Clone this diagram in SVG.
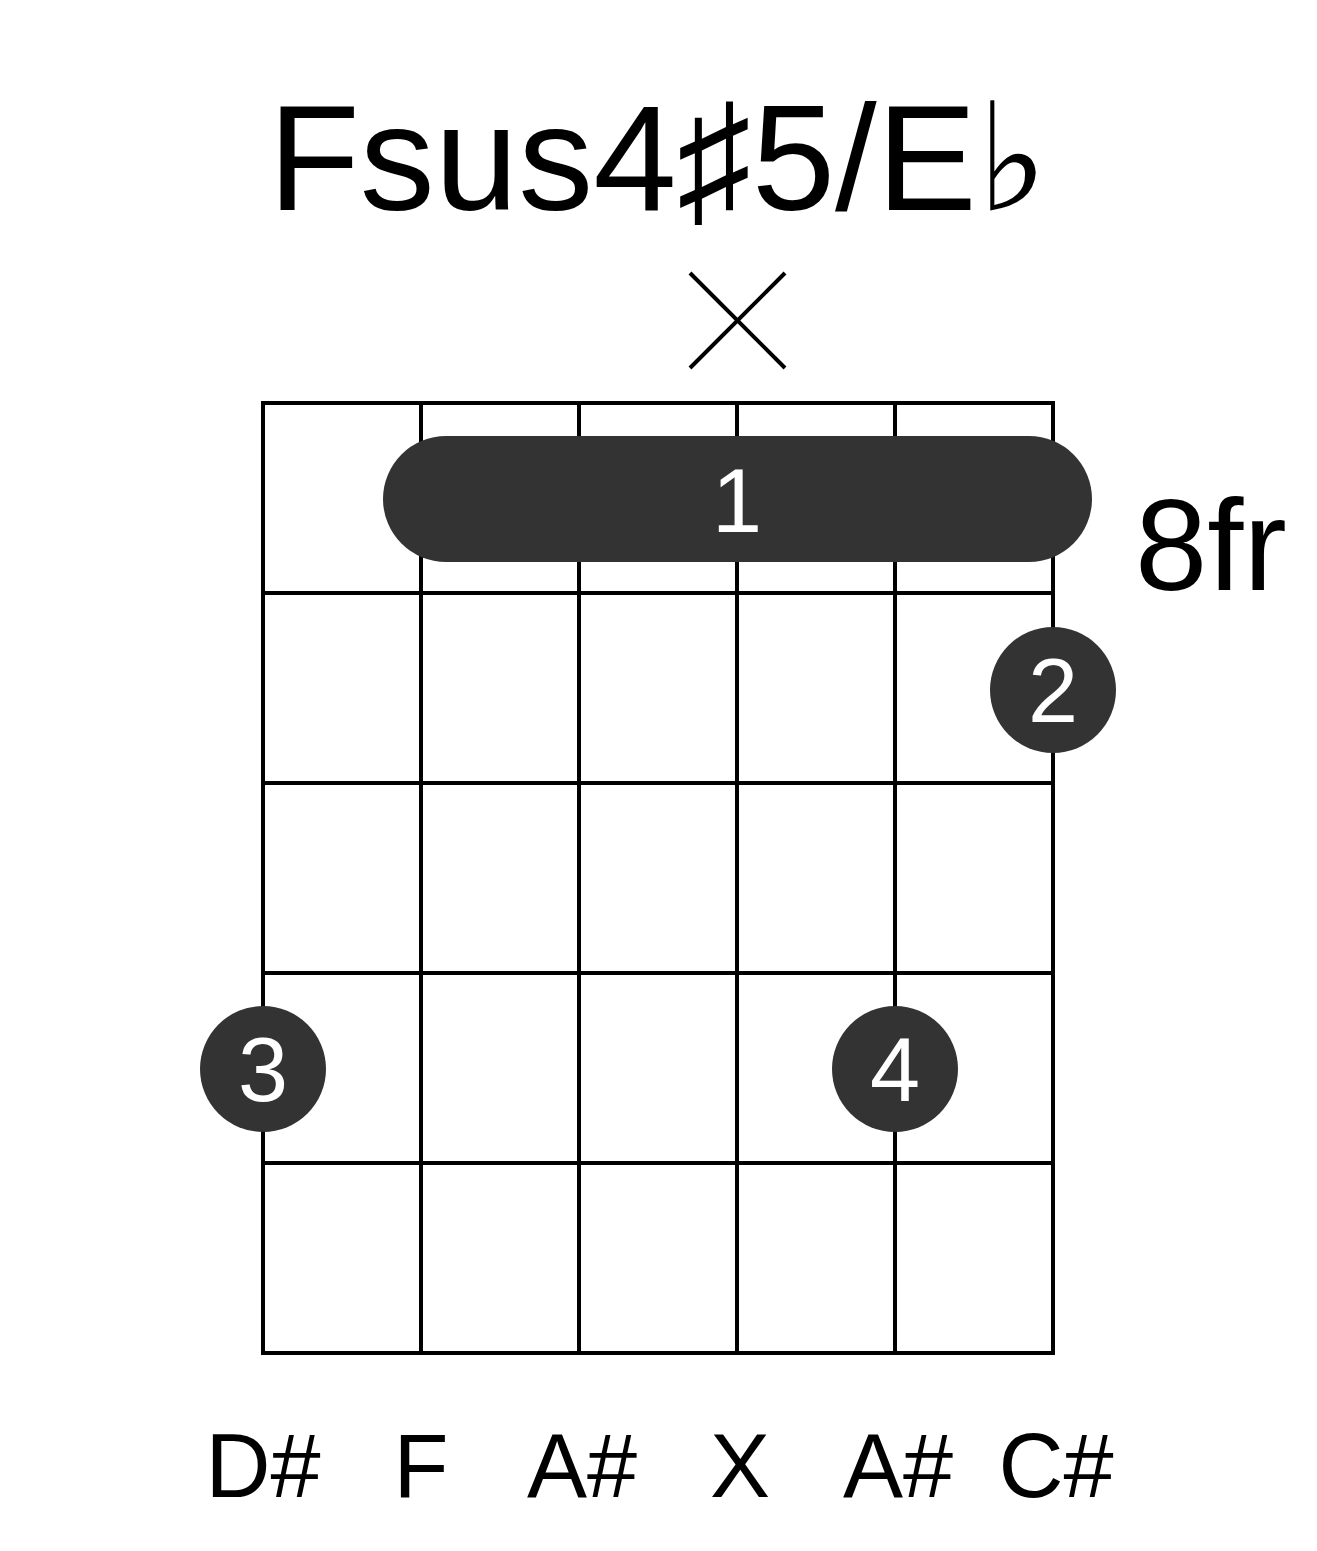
<svg xmlns="http://www.w3.org/2000/svg" width="1317" height="1551" viewBox="0 0 1317 1551">
<style>
.t{font-family:"Liberation Sans",Arial,sans-serif;fill:#000}
.g line{stroke:#000;stroke-width:4}
.d{fill:#333}
.w{font-family:"Liberation Sans",Arial,sans-serif;fill:#fff;font-size:90px;text-anchor:middle}
.n{font-size:90px;text-anchor:middle}
</style>
<rect width="1317" height="1551" fill="#fff"/>
<text class="t" x="658" y="210" font-size="150" text-anchor="middle">Fsus4♯5/E♭</text>
<g id="mute"><line x1="690" y1="273" x2="785" y2="368" stroke="#000" stroke-width="4"/><line x1="785" y1="273" x2="690" y2="368" stroke="#000" stroke-width="4"/></g>
<g id="grid" class="g">
<line x1="263" y1="401" x2="263" y2="1355"/><line x1="421" y1="403" x2="421" y2="1353"/><line x1="579" y1="403" x2="579" y2="1353"/><line x1="737" y1="403" x2="737" y2="1353"/><line x1="895" y1="403" x2="895" y2="1353"/><line x1="1053" y1="401" x2="1053" y2="1355"/>
<line x1="261" y1="403" x2="1055" y2="403"/><line x1="263" y1="593" x2="1053" y2="593"/><line x1="263" y1="783" x2="1053" y2="783"/><line x1="263" y1="973" x2="1053" y2="973"/><line x1="263" y1="1163" x2="1053" y2="1163"/><line x1="261" y1="1353" x2="1055" y2="1353"/>
</g>
<g id="barre"><rect class="d" x="383" y="436" width="709" height="126" rx="63"/><text class="w" x="737" y="532">1</text></g>
<g id="f2"><circle class="d" cx="1053" cy="690" r="63"/><text class="w" x="1053" y="722">2</text></g>
<g id="f3"><circle class="d" cx="263" cy="1069" r="63"/><text class="w" x="263" y="1101">3</text></g>
<g id="f4"><circle class="d" cx="895" cy="1069" r="63"/><text class="w" x="895" y="1101">4</text></g>
<text class="t" x="1135" y="590" font-size="130">8fr</text>
<g id="labels">
<text class="t n" x="263" y="1497">D#</text><text class="t n" x="421" y="1497">F</text><text class="t n" x="582" y="1497">A#</text><text class="t n" x="740" y="1497">X</text><text class="t n" x="898" y="1497">A#</text><text class="t n" x="1056" y="1497">C#</text>
</g>
</svg>
